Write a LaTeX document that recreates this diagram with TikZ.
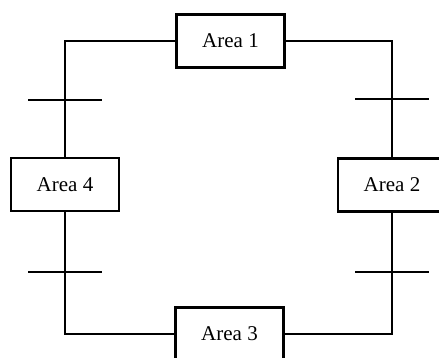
\documentclass[tikz,border=0pt]{standalone}
\usepackage{fontspec}
\setmainfont{Liberation Serif}
\begin{document}
\begin{tikzpicture}[x=1pt,y=-1pt,
  area/.style={draw,line width=2.4pt,minimum width=108pt,minimum height=53pt,inner sep=0pt,font=\fontsize{21}{25}\selectfont},
  conn/.style={line width=1.6pt},
  tick/.style={line width=2.2pt}]
\useasboundingbox (0,0) rectangle (439,358);
\begin{scope}
\clip (0,0) rectangle (439,358);
\node[area] (a1) at (230.5,41) {Area 1};
\node[area] (a4) at (65,184.5) {Area 4};
\node[area] (a2) at (392,185) {Area 2};
\node[area] (a3) at (229.5,334) {Area 3};
\draw[conn] (a1.west) -| (a4.north);
\draw[conn] (a1.east) -| (a2.north);
\draw[conn] (a4.south) |- (a3.west);
\draw[conn] (a2.south) |- (a3.east);
\coordinate (t1) at (65,100);
\coordinate (t2) at (392,99);
\coordinate (t3) at (65,272);
\coordinate (t4) at (392,272);
\foreach \t in {t1,t2,t3,t4}
  \draw[tick] ([xshift=-37pt]\t) -- ([xshift=37pt]\t);
\end{scope}
\end{tikzpicture}
\end{document}
